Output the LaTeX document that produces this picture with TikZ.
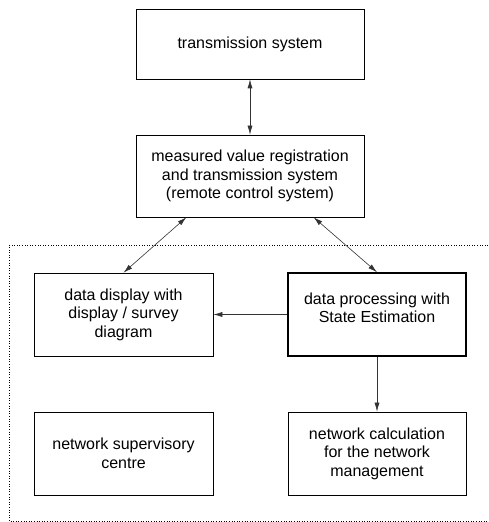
\documentclass[tikz,border=0pt]{standalone}
\usepackage{fontspec}
\setmainfont{Liberation Sans}
\usetikzlibrary{arrows.meta}
\tikzset{
	box/.style={draw=black, line width=0.6pt, align=center, inner sep=2pt, font=\fontsize{16}{18.5}\selectfont},
	link/.style={line width=0.6pt, draw=black!80, {Latex[length=9pt,width=5pt]}-{Latex[length=9pt,width=5pt]}},
	flow/.style={line width=0.6pt, draw=black!80, -{Latex[length=9pt,width=5pt]}}
}
\begin{document}
\begin{tikzpicture}[x=1pt, y=1pt]
			\useasboundingbox (0,0) rectangle (488,522);
			\draw[dotted, line width=0.6pt] (488,277) -- (9,277) -- (9,1) -- (488,1);
			\node[box, minimum width=228pt, minimum height=70pt] (trans) at (250,478) {transmission system};
			\node[box, minimum width=228pt, minimum height=82pt] (meas) at (250,346) {measured value registration\\and transmission system\\(remote control system)};
			\node[box, minimum width=179pt, minimum height=83pt] (disp) at (123.5,207.5) {data display with\\display / survey\\diagram};
			\node[box, line width=1.5pt, minimum width=178pt, minimum height=83pt, text depth=14pt] (proc) at (377,207.5) {data processing with\\State Estimation};
			\node[box, minimum width=179pt, minimum height=83pt] (sup) at (123.5,68.5) {network supervisory\\centre};
			\node[box, minimum width=178pt, minimum height=83pt] (calc) at (377,68.5) {network calculation\\for the network\\management};
			\draw[link] (trans.south) -- (meas.north);
			\draw[link] (meas.213) -- (disp.north);
			\draw[link] (meas.-33) -- (proc.north);
			\draw[flow] (proc.west) -- (disp.east);
			\draw[flow] (proc.south) -- (calc.north);
		\end{tikzpicture}
\end{document}
